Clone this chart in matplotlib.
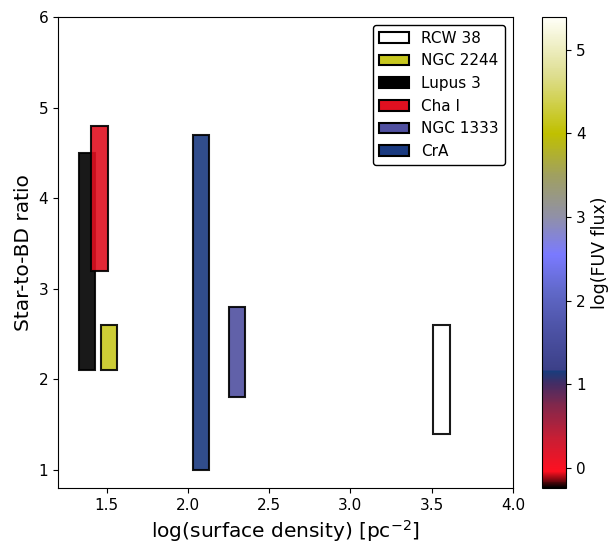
import matplotlib
matplotlib.use('Agg')
import matplotlib.pyplot as plt
from matplotlib.colors import LinearSegmentedColormap, Normalize
from matplotlib.patches import Patch
from matplotlib.cm import ScalarMappable

# regions, log surface density, star-to-BD ratio range
regions = ['RCW 38', 'NGC 2244', 'Lupus 3', 'Cha I', 'NGC 1333', 'CrA']
log_sd = [3.56, 1.515, 1.38, 1.455, 2.30, 2.08]
ratio_lo = [1.4, 2.1, 2.1, 3.2, 1.8, 1.0]
ratio_hi = [2.6, 2.6, 4.5, 4.8, 2.8, 4.7]
region_colors = ['#ffffff', '#c8c820', '#000000', '#e01020', '#5050a0', '#1a3a80']

vmin, vmax = -0.24, 5.39

# colour stops of the FUV colour bar (in log FUV units)
stops = [
    (-0.24, '#000000'),
    (-0.05, '#ff1020'),
    (0.35, '#c81e34'),
    (0.75, '#80284c'),
    (1.0, '#442c64'),
    (1.15, '#1a3c7c'),
    (1.17, '#3c4088'),
    (1.7, '#4e54a8'),
    (2.1, '#6068c8'),
    (2.55, '#7a7aff'),
    (3.0, '#9090a8'),
    (3.5, '#a0a060'),
    (4.0, '#c0c000'),
    (4.7, '#dede90'),
    (5.39, '#fffff8'),
]
cmap = LinearSegmentedColormap.from_list(
    'fuv', [((v - vmin) / (vmax - vmin), c) for v, c in stops], N=512)
norm = Normalize(vmin=vmin, vmax=vmax)

fig = plt.figure(figsize=(6.12, 5.46), dpi=100)
ax = fig.add_axes([0.0948, 0.1062, 0.7432, 0.8627])
cax = fig.add_axes([0.8855, 0.1062, 0.0395, 0.8627])

handles = []
for i in range(len(regions)):
    ax.bar(log_sd[i], ratio_hi[i] - ratio_lo[i], bottom=ratio_lo[i], width=0.1,
           color=region_colors[i], edgecolor='black', linewidth=1.5, alpha=0.9)
    handles.append(Patch(facecolor=region_colors[i], edgecolor='black',
                         linewidth=1.5, label=regions[i]))

ax.set_xlim(1.2, 4.0)
ax.set_ylim(0.8, 6.0)
ax.set_xticks([1.5, 2.0, 2.5, 3.0, 3.5, 4.0])
ax.tick_params(labelsize=11)
ax.set_xlabel('log(surface density) [pc$^{-2}$]', fontsize=14.5)
ax.set_ylabel('Star-to-BD ratio', fontsize=14.5)

ax.legend(handles=handles, loc='upper right', fontsize=11, framealpha=1,
          edgecolor='black')

sm = ScalarMappable(norm=norm, cmap=cmap)
cb = fig.colorbar(sm, cax=cax)
cb.set_label('log(FUV flux)', fontsize=12.5)
cb.ax.tick_params(labelsize=11)

fig.savefig('out.png', dpi=100)
